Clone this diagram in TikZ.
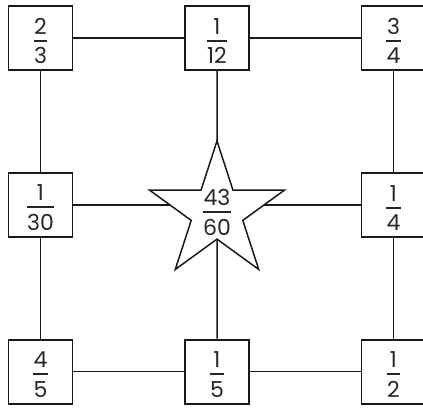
\documentclass[tikz,border=0pt]{standalone}
\usepackage{fontspec}
\setmainfont{Poppins}
\usetikzlibrary{positioning,shapes.geometric,backgrounds}

% stacked fraction: numerator, bar, denominator
\newcommand{\fr}[3][6pt]{\vbox{\offinterlineskip\kern#1%
  \halign{\hfil\kern0.5pt##\kern0.5pt\hfil\cr#2\cr
    \noalign{\kern5.5pt\hrule height 2pt\kern6pt}#3\cr}}}

\begin{document}
\begin{tikzpicture}[x=1pt,y=1pt,node distance=101pt and 110.7pt,
    every node/.style={font=\fontsize{22}{26}\selectfont,text=black!85},
    box/.style={draw=black!90,line width=1.8pt,fill=white,minimum size=64pt,inner sep=0pt},
    link/.style={draw=black!90,line width=1.5pt}]
  \useasboundingbox (0,0) rectangle (423,-407);
  \clip (0,0) rectangle (423,-407);
  \node[box] (tl) at (40.5,-38) {\fr{2}{3}};
  \node[box,right=of tl] (tm) {\fr{1}{12}};
  \node[box,right=of tm] (tr) {\fr{3}{4}};
  \node[box,below=of tl] (ml) {\fr{1}{30}};
  \node[box,below=of tr] (mr) {\fr{1}{4}};
  \node[box,below=of ml] (bl) {\fr{4}{5}};
  \node[box,right=of bl] (bm) {\fr{1}{5}};
  \node[box,right=of bm] (br) {\fr{1}{2}};
  \node[star,star points=5,star point ratio=2.618,draw=black!90,line width=1.5pt,fill=white,
        minimum size=142pt,inner sep=0pt] (mid) at (217,-212) {};
  \node (sum) at (mid.center) {\fr[0pt]{43}{60}};
  \draw[link] (tl) -- (tm);
  \draw[link] (tm) -- (tr);
  \draw[link] (tl) -- (ml);
  \draw[link] (ml) -- (bl);
  \draw[link] (tr) -- (mr);
  \draw[link] (mr) -- (br);
  \draw[link] (bl) -- (bm);
  \draw[link] (bm) -- (br);
  \begin{pgfonlayer}{background}
    \draw[link] (tm) -- (mid.center);
    \draw[link] (bm) -- (mid.center);
    \draw[link] (ml) -- (ml -| mid.center);
    \draw[link] (mr) -- (mr -| mid.center);
  \end{pgfonlayer}
\end{tikzpicture}
\end{document}
